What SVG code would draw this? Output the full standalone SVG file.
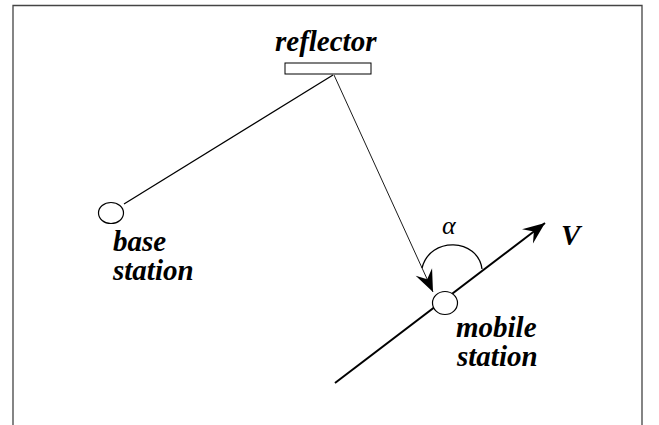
<svg xmlns="http://www.w3.org/2000/svg" width="659" height="425" viewBox="0 0 659 425">
  <style>
    .frame { fill: none; stroke: #444; stroke-width: 1.3; }
    .label { font-family: 'Liberation Serif', 'DejaVu Serif', serif; font-weight: 700; font-style: italic; font-size: 29px; fill: #000; }
    .greek { font-family: 'Liberation Serif', 'DejaVu Serif', serif; font-style: italic; font-size: 26px; fill: #000; }
    .station { fill: #fff; stroke: #000; stroke-width: 1.2; }
    .path-line { fill: none; stroke: #000; }
  </style>
  <defs>
    <marker id="barb" markerUnits="userSpaceOnUse" orient="auto" markerWidth="30" markerHeight="24" refX="0" refY="0" viewBox="-24 -12 30 24" overflow="visible">
      <path d="M0,0 L-22,-9 L-14,0 L-22,9 Z" fill="#000"/>
    </marker>
  </defs>

  <!-- outer frame, open at the bottom -->
  <path class="frame" d="M13,425 L13,5.5 L642,5.5 L642,425"/>

  <g id="connectors">
    <!-- direct path: base station to reflector -->
    <line class="path-line" stroke-width="1.3" x1="124" y1="204" x2="333" y2="75"/>
    <!-- reflected ray toward the mobile -->
    <line class="path-line" stroke-width="0.9" x1="334" y1="75" x2="433" y2="292" marker-end="url(#barb)"/>
    <!-- mobile velocity direction -->
    <line class="path-line" stroke-width="2" x1="335" y1="383" x2="545" y2="223" marker-end="url(#barb)"/>
    <!-- angle between ray and velocity -->
    <path class="path-line" stroke-width="1.3" d="M482,269 C478,238 430,236 422,268"/>
  </g>

  <g id="reflector">
    <rect x="285" y="63" width="86" height="11" fill="#fff" stroke="#000" stroke-width="1"/>
    <text class="label" font-family="Liberation Serif, DejaVu Serif, serif" x="275" y="51">reflector</text>
  </g>

  <g id="base-station">
    <ellipse class="station" cx="111" cy="213" rx="12.5" ry="10.5"/>
    <text class="label" font-family="Liberation Serif, DejaVu Serif, serif" x="113" y="251">base</text>
    <text class="label" font-family="Liberation Serif, DejaVu Serif, serif" x="113" y="280">station</text>
  </g>

  <g id="mobile-station">
    <ellipse class="station" cx="445" cy="303" rx="12.5" ry="11.5"/>
    <text class="label" font-family="Liberation Serif, DejaVu Serif, serif" x="456" y="337">mobile</text>
    <text class="label" font-family="Liberation Serif, DejaVu Serif, serif" x="457" y="366">station</text>
  </g>

  <g id="velocity-label">
    <text class="label" font-family="Liberation Serif, DejaVu Serif, serif" x="561" y="245" font-size="28">V</text>
  </g>

  <g id="angle-label">
    <text class="greek" font-family="Liberation Serif, DejaVu Serif, serif" x="442" y="234">α</text>
  </g>
</svg>
